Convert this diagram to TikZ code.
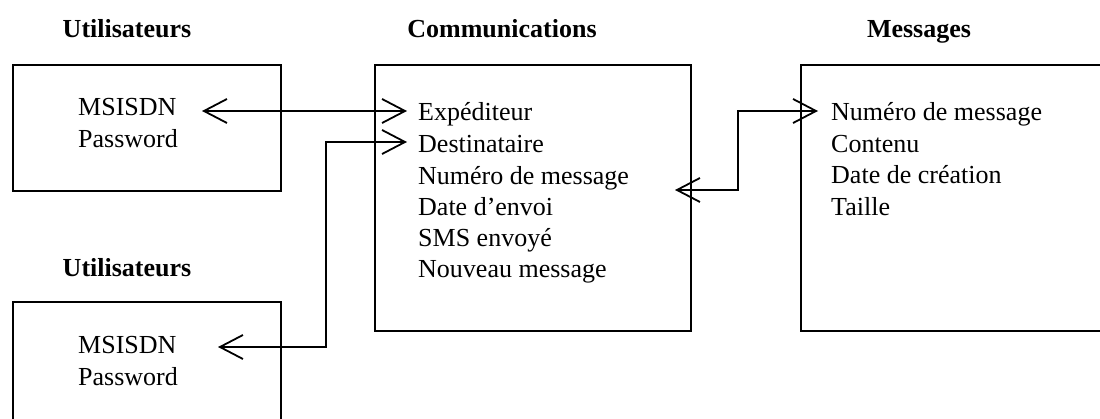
\documentclass[tikz,border=0pt]{standalone}
\usepackage{fontspec}
\setmainfont{Liberation Serif}
\usetikzlibrary{arrows.meta}
\begin{document}
\begin{tikzpicture}[x=1pt,y=-1pt,
  box/.style={draw,line width=1.8pt,inner sep=0pt,anchor=north west},
  txt/.style={anchor=base west,inner sep=0pt,font=\fontsize{26}{31}\selectfont},
  hdr/.style={anchor=base,inner sep=0pt,font=\fontsize{26}{31}\selectfont\bfseries},
  barb/.tip={Straight Barb[length=23pt,width=24pt]},
  conn/.style={line width=1.8pt,barb-barb}]
\useasboundingbox (0,0) rectangle (1100,419);
\begin{scope}
\clip (0,0) rectangle (1100,419);
% boxes
\node[box,minimum width=268pt,minimum height=126pt] (ua) at (12,64) {};
\node[box,minimum width=268pt,minimum height=150pt] (ub) at (12,301) {};
\node[box,minimum width=316pt,minimum height=266pt] (co) at (374,64) {};
\node[box,minimum width=340pt,minimum height=266pt] (me) at (800,64) {};
\end{scope}
% headers
\node[hdr] (h1) at (127,38) {Utilisateurs};
\node[hdr] (h2) at (502,38) {Communications};
\node[hdr] (h3) at (919,38) {Messages};
\node[hdr] (h4) at (127,277) {Utilisateurs};
% user A
\node[txt] (uam) at (78,116) {MSISDN};
\node[txt] (uap) at (78,148) {Password};
% user B
\node[txt] (ubm) at (78,354) {MSISDN};
\node[txt] (ubp) at (78,385) {Password};
% communications
\node[txt] (c1) at (418,121) {Expéditeur};
\node[txt] (c2) at (418,153) {Destinataire};
\node[txt] (c3) at (418,185) {Numéro de message};
\node[txt] (c4) at (418,216) {Date d’envoi};
\node[txt] (c5) at (418,247) {SMS envoyé};
\node[txt] (c6) at (418,278) {Nouveau message};
% messages
\node[txt] (m1) at (831,121) {Numéro de message};
\node[txt] (m2) at (831,153) {Contenu};
\node[txt] (m3) at (831,184) {Date de création};
\node[txt] (m4) at (831,216) {Taille};
% connector points
\coordinate (a1) at (202,111);
\coordinate (a2) at (407,111);
\coordinate (b1) at (218,347);
\coordinate (bj) at (326,142);
\coordinate (b2) at (407,142);
\coordinate (d1) at (675,190);
\coordinate (dj) at (738,111);
\coordinate (d2) at (818,111);
% connectors
\draw[conn] (a1) -- (a2);
\draw[conn] (b1) -| (bj) -- (b2);
\draw[conn] (d1) -| (dj) -- (d2);
\end{tikzpicture}
\end{document}
